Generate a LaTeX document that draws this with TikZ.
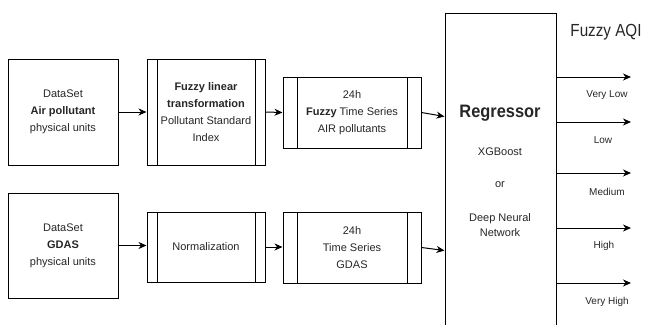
\documentclass[tikz,border=0pt]{standalone}
\usepackage{fontspec}
\setmainfont{Liberation Sans}
\usetikzlibrary{arrows.meta,calc}
\begin{document}
\begin{tikzpicture}[x=1pt,y=-1pt,
  every node/.style={font=\fontsize{11}{17}\selectfont, text=black!85},
  box/.style={draw, line width=1pt, align=center, inner sep=0pt},
  proc/.style={box, path picture={
     \draw[line width=1pt] ([xshift=#1]path picture bounding box.north west) -- ([xshift=#1]path picture bounding box.south west);
     \draw[line width=1pt] ([xshift=-#1]path picture bounding box.north east) -- ([xshift=-#1]path picture bounding box.south east);}},
  arr/.style={-{Stealth[length=8pt,width=7pt,inset=2.5pt]}, line width=1pt},
  lab/.style={font=\fontsize{10}{12}\selectfont}]
\useasboundingbox (0,0) rectangle (647,324);
% top row
\node[box, minimum width=110pt, minimum height=106pt] (b1) at (63,112) {DataSet\\\textbf{Air pollutant}\\physical units};
\node[proc=10pt, minimum width=118pt, minimum height=106pt] (b2) at (206,112) {\textbf{Fuzzy linear}\\\textbf{transformation}\\Pollutant Standard\\Index};
\node[proc=14pt, minimum width=138pt, minimum height=71pt] (b3) at (352,112.5) {24h\\\textbf{Fuzzy} Time Series\\AIR pollutants};
% bottom row
\node[box, minimum width=110pt, minimum height=105pt] (b4) at (63,245.5) {DataSet\\\textbf{GDAS}\\physical units};
\node[proc=10pt, minimum width=118pt, minimum height=70pt] (b5) at (206,247) {Normalization};
\node[proc=14pt, minimum width=138pt, minimum height=71pt] (b6) at (352,247.5) {24h\\Time Series\\GDAS};
% regressor
\node[box, minimum width=111pt, minimum height=314pt] (reg) at (500.5,170) {};
\node[font=\fontsize{18}{20}\selectfont\bfseries] (regt) at (500,113) {\scalebox{0.91}[1]{Regressor}};
\node (xgb) at (500,152) {XGBoost};
\node (orn) at (500,185) {or};
\node[align=center, font=\fontsize{11}{15}\selectfont] (dnn) at (500,225.5) {Deep Neural\\Network};
\node[font=\fontsize{17.5}{19}\selectfont] (aqi) at (606,32) {\scalebox{0.87}[1]{Fuzzy AQI}};
% connectors
\draw[arr] (b1.east) -- (b2.west);
\draw[arr] (b2.east) -- (b3.west);
\draw[arr] (b3.east) -- ($(reg.north west)+(0,104)$);
\draw[arr] (b4.east) -- (b4.east -| b5.west);
\draw[arr] (b5.east) -- (b5.east -| b6.west);
\draw[arr] (b6.east) -- ($(reg.north west)+(0,238)$);
% outputs
\coordinate (o1) at (631,77);
\coordinate (o2) at (631,122);
\coordinate (o3) at (631,173);
\coordinate (o4) at (631,228);
\coordinate (o5) at (631,283);
\foreach \o in {o1,o2,o3,o4,o5} \draw[arr] (reg.east |- \o) -- (\o);
\node[lab] (l1) at (607,95) {Very Low};
\node[lab] (l2) at (603,140) {Low};
\node[lab] (l3) at (607,192) {Medium};
\node[lab] (l4) at (604,246) {High};
\node[lab] (l5) at (607,302) {Very High};
\end{tikzpicture}
\end{document}
